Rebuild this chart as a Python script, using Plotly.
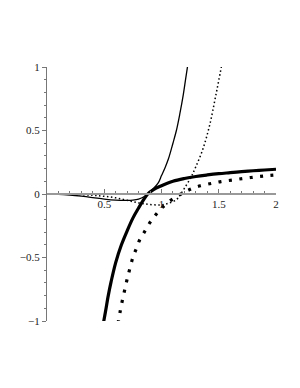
import plotly.graph_objects as go

# Thin solid curve
xA = [0, 0.1, 0.2, 0.3, 0.4, 0.5, 0.6, 0.7, 0.75, 0.8, 0.85, 0.88, 0.92, 0.97, 1.0, 1.03, 1.06, 1.1, 1.13, 1.16, 1.19, 1.21, 1.23]
yA = [0, -0.002, -0.008, -0.017, -0.028, -0.04, -0.048, -0.05, -0.048, -0.04, -0.02, 0, 0.035, 0.085, 0.145, 0.205, 0.275, 0.4, 0.5, 0.63, 0.78, 0.9, 1.02]

# Thin dotted curve
xB = [0, 0.2, 0.4, 0.5, 0.6, 0.7, 0.8, 0.9, 1.0, 1.07, 1.13, 1.16, 1.2, 1.26, 1.3, 1.36, 1.42, 1.475, 1.527]
yB = [0, -0.002, -0.01, -0.018, -0.03, -0.05, -0.07, -0.083, -0.085, -0.07, -0.045, -0.01, 0.045, 0.136, 0.215, 0.35, 0.54, 0.78, 1.02]

# Thick solid curve
xC = [0.49, 0.51, 0.535, 0.56, 0.6, 0.65, 0.7, 0.75, 0.8, 0.84, 0.88, 0.93, 1.0, 1.1, 1.2, 1.3, 1.4, 1.5, 1.6, 1.7, 1.8, 1.9, 2.0]
yC = [-1.03, -0.93, -0.8, -0.69, -0.54, -0.4, -0.29, -0.19, -0.11, -0.05, 0, 0.035, 0.065, 0.1, 0.122, 0.138, 0.15, 0.16, 0.168, 0.176, 0.183, 0.189, 0.195]

# Thick dotted (square dots) curve
xD = [0.62, 0.64, 0.66, 0.68, 0.7, 0.72, 0.75, 0.78, 0.81, 0.85, 0.9, 0.95, 1.0, 1.08, 1.17, 1.26, 1.34, 1.44, 1.52, 1.62, 1.72, 1.81, 1.9, 2.0]
yD = [-1.02, -0.92, -0.83, -0.75, -0.67, -0.6, -0.5, -0.43, -0.36, -0.3, -0.224, -0.163, -0.112, -0.05, 0, 0.04, 0.065, 0.084, 0.098, 0.11, 0.123, 0.133, 0.142, 0.15]

x_ticks = [0.5, 1, 1.5, 2]
x_labels = ["0.5", "1", "1.5", "2"]
y_ticks = [-1, -0.5, 0, 0.5, 1]
y_labels = ["\u22121", "\u22120.5", "0", "0.5", "1"]

fig = go.Figure()
fig.add_trace(go.Scatter(x=xA, y=yA, mode="lines", line=dict(color="black", width=1.3, shape="spline")))
fig.add_trace(go.Scatter(x=xB, y=yB, mode="lines", line=dict(color="black", width=1.5, shape="spline", dash="1.5px,2.5px")))
fig.add_trace(go.Scatter(x=xC, y=yC, mode="lines", line=dict(color="black", width=3.2, shape="spline")))
fig.add_trace(go.Scatter(x=xD, y=yD, mode="lines", line=dict(color="black", width=3.2, shape="spline", dash="3px,7.5px")))

axfont = dict(family="Liberation Serif, Times New Roman, serif", size=11, color="#222")
fig.update_layout(
    width=292, height=380,
    margin=dict(l=37, r=24, t=59, b=67),
    paper_bgcolor="white", plot_bgcolor="white",
    showlegend=False,
    xaxis=dict(range=[0, 2], anchor="free", position=0.5, showline=True, linecolor="#999", linewidth=1.8,
               zeroline=False, showgrid=False, tickvals=x_ticks, ticktext=x_labels,
               ticks="inside", ticklen=4, tickcolor="#777", tickfont=axfont,
               minor=dict(dtick=0.1, tick0=0, ticks="inside", ticklen=2.5, tickcolor="#777")),
    yaxis=dict(range=[-1, 1], showline=True, linecolor="#777", linewidth=1.3,
               zeroline=False, showgrid=False, tickvals=y_ticks, ticktext=y_labels,
               ticks="outside", ticklen=4, tickcolor="#777", tickfont=axfont,
               minor=dict(dtick=0.1, tick0=0, ticks="outside", ticklen=2, tickcolor="#777")),
)
fig.write_html("out.html")
